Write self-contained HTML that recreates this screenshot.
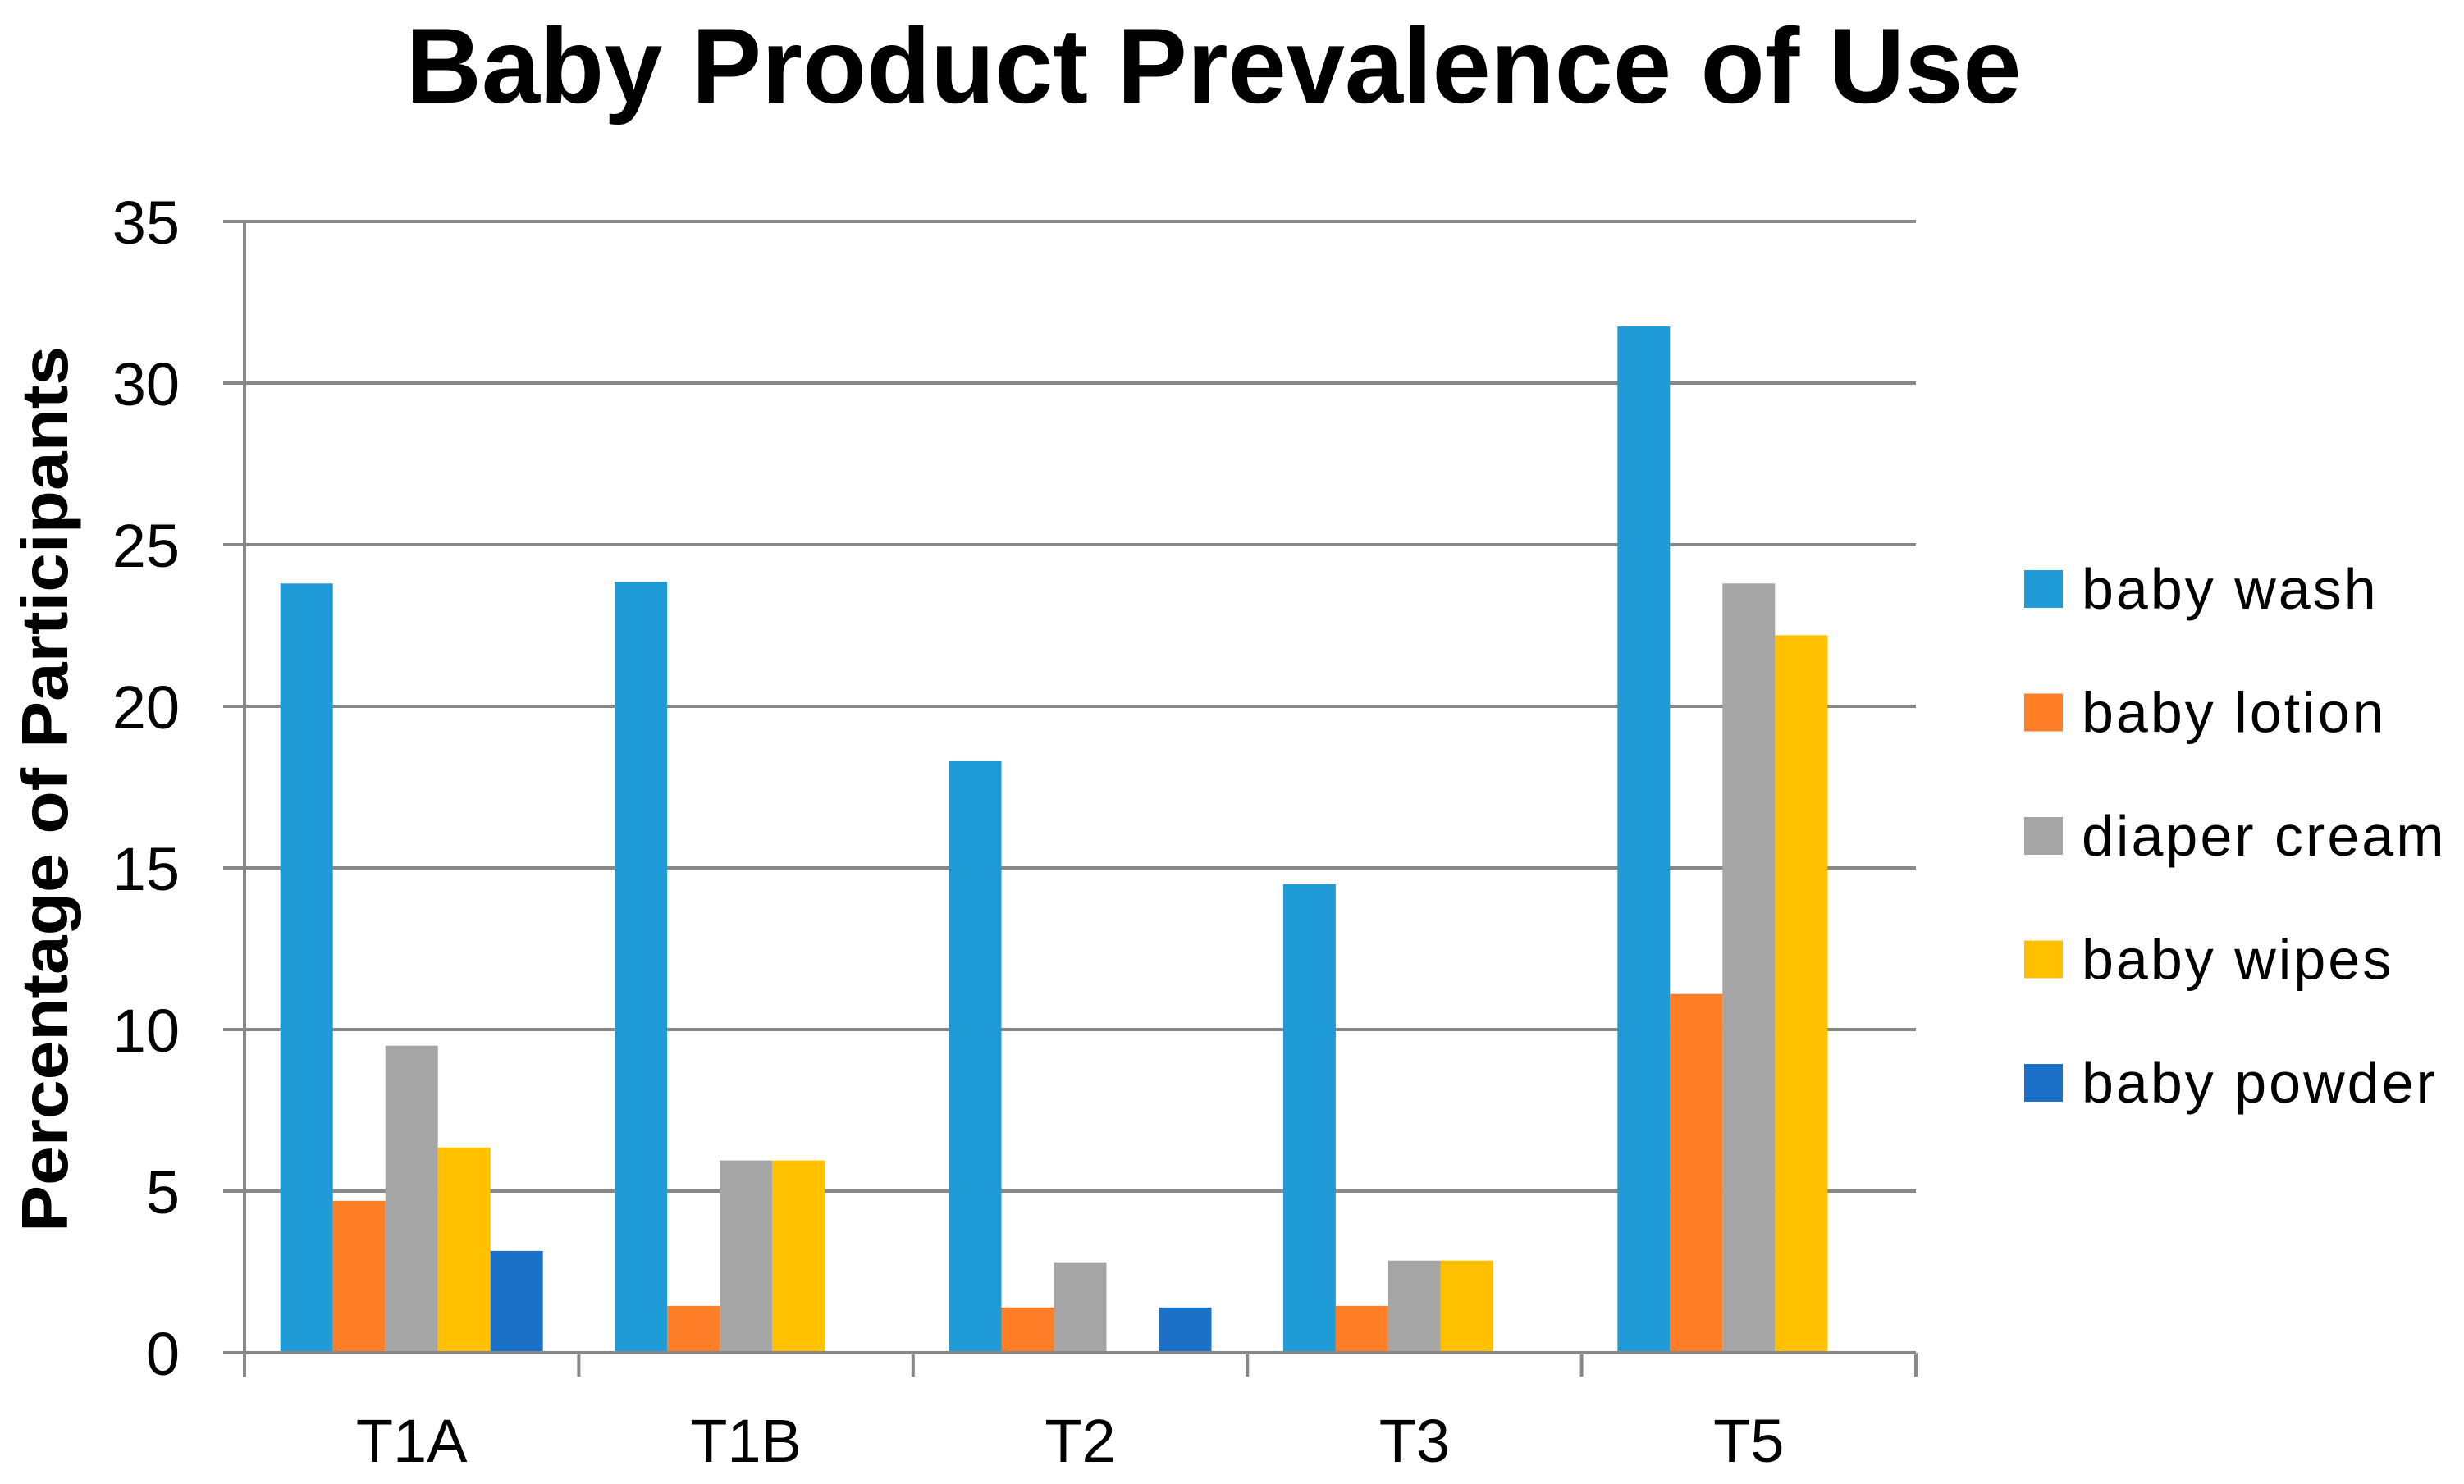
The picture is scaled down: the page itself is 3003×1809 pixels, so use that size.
<!DOCTYPE html>
<html><head><meta charset="utf-8"><style>html,body{margin:0;padding:0;background:#fff}svg{display:block}</style></head>
<body>
<svg id="chart" width="3003" height="1809" viewBox="0 0 3003 1809" xmlns="http://www.w3.org/2000/svg" font-family="'Liberation Sans', sans-serif">
<text x="1479" y="125" font-size="130" font-weight="bold" text-anchor="middle" textLength="1969" lengthAdjust="spacingAndGlyphs">Baby Product Prevalence of Use</text>
<text transform="translate(82,962) rotate(-90)" font-size="80" font-weight="bold" text-anchor="middle" textLength="1080" lengthAdjust="spacingAndGlyphs">Percentage of Participants</text>
<g id="grid"></g><g id="bars"></g><g id="axes"></g><g id="legend"></g>
</svg>
<script>
const categories = ["T1A","T1B","T2","T3","T5"];
const seriesNames = ["baby wash","baby lotion","diaper cream","baby wipes","baby powder"];
const babyWash = [23.8, 23.85, 18.3, 14.5, 31.75];
const babyLotion = [4.7, 1.45, 1.4, 1.45, 11.1];
const diaperCream = [9.5, 5.95, 2.8, 2.85, 23.8];
const babyWipes = [6.35, 5.95, 0, 2.85, 22.2];
const babyPowder = [3.15, 0, 1.4, 0, 0];
const yTicks = [0,5,10,15,20,25,30,35];
const colors = ["#1F9BD7","#FE7F27","#A5A5A5","#FFC000","#1A71C7"];
const series = [babyWash, babyLotion, diaperCream, babyWipes, babyPowder];

const NS = "http://www.w3.org/2000/svg";
const X0 = 298, X1 = 2335, Y0 = 1649, Y35 = 270, YMAX = 35;
const catW = (X1 - X0) / categories.length;
const barW = 64;
function yScale(v){ return Y0 - (v / YMAX) * (Y0 - Y35); }
function xCat(i){ return X0 + i * catW; }
function mk(tag, attrs, parent){ const e = document.createElementNS(NS, tag); for (const k in attrs) e.setAttribute(k, attrs[k]); parent.appendChild(e); return e; }

const grid = document.getElementById('grid');
yTicks.forEach(t => {
  const l = mk('line', {x1: 272, x2: X1, y1: yScale(t), y2: yScale(t), stroke: '#888', 'stroke-width': 4}, grid);
  
  
  const tx = mk('text', {x: 219, y: yScale(t) + 27, 'font-size': 74, 'text-anchor': 'end', fill: '#000'}, grid);
  tx.textContent = t;
  
  
});

const bars = document.getElementById('bars');
categories.forEach((c, i) => {
  const start = xCat(i) + (catW - barW * series.length) / 2;
  series.forEach((s, j) => {
    const v = s[i];
    if (v <= 0) return;
    const r = mk('rect', {x: start + j * barW, y: yScale(v), width: barW, height: Y0 - yScale(v), fill: colors[j]}, bars);
    
    
  });
});

const axes = document.getElementById('axes');
const ya = mk('line', {x1: X0, x2: X0, y1: Y35, y2: 1678, stroke: '#888', 'stroke-width': 4}, axes);


const xa = mk('line', {x1: X0, x2: X1, y1: Y0, y2: Y0, stroke: '#888', 'stroke-width': 4}, axes);


for (let i = 0; i <= categories.length; i++) {
  const tk = mk('line', {x1: xCat(i), x2: xCat(i), y1: Y0, y2: 1678, stroke: '#888', 'stroke-width': 4}, axes);
  
  
}
categories.forEach((c, i) => {
  const t = mk('text', {x: xCat(i) + catW / 2, y: 1782, 'font-size': 74, 'text-anchor': 'middle'}, axes);
  t.textContent = c;
  
  
});

const legend = document.getElementById('legend');
seriesNames.forEach((n, j) => {
  const cy = 718 + j * 150.5;
  const g = mk('g', {}, legend);
  
  
  mk('rect', {x: 2467, y: cy - 23, width: 47, height: 46, fill: colors[j]}, g);
  const t = mk('text', {x: 2537, y: cy + 24, 'font-size': 70, 'letter-spacing': 3}, g);
  t.textContent = n;
});
</script>
</body></html>
